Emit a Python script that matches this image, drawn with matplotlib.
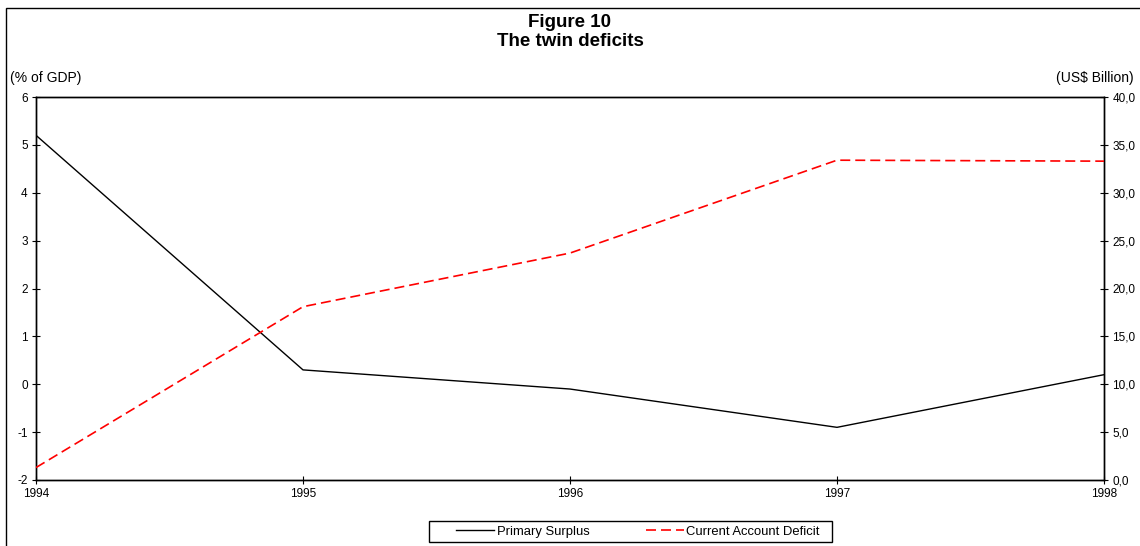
import matplotlib
matplotlib.use("Agg")
import matplotlib.pyplot as plt
from matplotlib.patches import Rectangle
from matplotlib.ticker import FuncFormatter

years = [1994, 1995, 1996, 1997, 1998]
primary_surplus = [5.2, 0.3, -0.1, -0.9, 0.2]          # % of GDP
current_account_deficit = [1.3, 18.1, 23.7, 33.4, 33.3]  # US$ billion

plt.rcParams["font.family"] = ["Liberation Sans", "DejaVu Sans"]
plt.rcParams["axes.unicode_minus"] = False

W, H = 1140, 546
fig = plt.figure(figsize=(W / 100, H / 100), dpi=100)

# outer chart frame
fig.patches.append(Rectangle((6 / W, -0.1), 1.2, 1 - 8 / H + 0.1,
                             transform=fig.transFigure, fill=False,
                             edgecolor="black", linewidth=1.0))

left, right, bottom, top = 36 / W, 1104 / W, 1 - 480 / H, 1 - 97 / H
ax = fig.add_axes([left, bottom, right - left, top - bottom])
ax2 = ax.twinx()

ax.plot(years, primary_surplus, color="black", linewidth=1.0,
        label="Primary Surplus", zorder=3)
ax2.plot(years, current_account_deficit, color="#ff0000", linewidth=1.2,
         linestyle=(0, (6, 3)), label="Current Account Deficit", zorder=3)

ax.set_xlim(1994, 1998)
ax.set_ylim(-2, 6)
ax2.set_ylim(0, 40)
ax.set_xticks(years)
ax.set_yticks(range(-2, 7))
ax2.set_yticks(range(0, 41, 5))
ax2.yaxis.set_major_formatter(FuncFormatter(lambda v, p: f"{v:.1f}".replace(".", ",")))

for a in (ax, ax2):
    a.tick_params(direction="inout", length=6, width=0.8, labelsize=8.5,
                  colors="black", pad=3)
    for s in a.spines.values():
        s.set_linewidth(1.0)
        s.set_color("black")

fig.text(0.5, 1 - 32 / H, "Figure 10\nThe twin deficits", ha="center",
         va="center", fontsize=13.5, fontweight="bold", linespacing=1.1)
fig.text(10 / W, 1 - 78 / H, "(% of GDP)", ha="left", va="center", fontsize=10)
fig.text(1134 / W, 1 - 78 / H, "(US$ Billion)", ha="right", va="center", fontsize=10)

# legend: entries without frame, boxed separately
h1, l1 = ax.get_legend_handles_labels()
h2, l2 = ax2.get_legend_handles_labels()
leg = fig.legend(h1 + h2, l1 + l2, loc="center",
                 bbox_to_anchor=(638 / W, 1 - 531.5 / H), ncol=2, fontsize=9.4,
                 frameon=False, handlelength=2.9, handletextpad=0.2,
                 columnspacing=4.3, borderpad=0.2, borderaxespad=0)
fig.patches.append(Rectangle((429 / W, 1 - 542 / H), (832 - 429) / W, 21 / H,
                             transform=fig.transFigure, fill=False,
                             edgecolor="black", linewidth=1.0))

fig.savefig("out.png", dpi=100)
